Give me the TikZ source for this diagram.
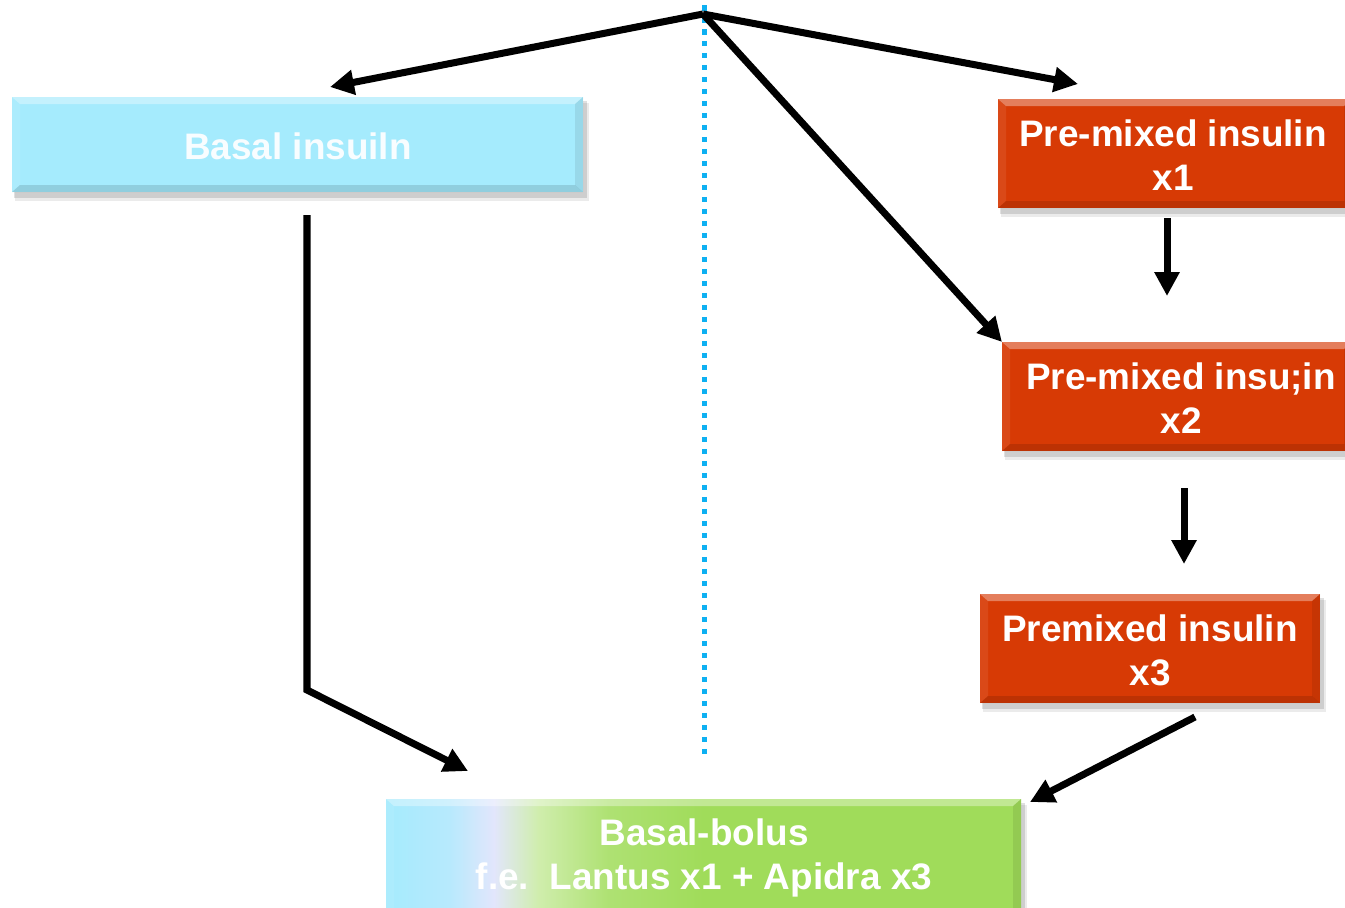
\documentclass[tikz,border=0pt]{standalone}
\usepackage{fontspec}
\setmainfont{Liberation Sans}
\usetikzlibrary{arrows.meta}
\definecolor{cy}{HTML}{A5EBFD}
\definecolor{orng}{HTML}{D73A05}
\definecolor{grn}{HTML}{A0DC5A}
\definecolor{lav}{HTML}{E2E6FC}
\definecolor{dotc}{HTML}{0DB0F2}
\pgfdeclarehorizontalshading{bbshade}{100bp}{color(0bp)=(cy); color(25bp)=(cy); color(30bp)=(cy!70!lav); color(33.5bp)=(lav); color(37bp)=(grn!50!white); color(42.5bp)=(grn!85!white); color(50bp)=(grn); color(75bp)=(grn); color(100bp)=(grn)}
\newcommand{\bevbox}[5]{% x1 y1 x2 y2 fillspec
  \fill[black,opacity=0.12] (#1+2,#2+4) rectangle (#3+4,#4+6);
  \fill[black,opacity=0.08] (#1+3,#2+6) rectangle (#3+6,#4+9);
  \path[#5] (#1,#2) rectangle (#3,#4);
  \fill[white,opacity=0.35] (#1,#2) -- (#3,#2) -- (#3-8,#2+7) -- (#1+8,#2+7) -- cycle;
  \fill[white,opacity=0.08] (#1,#2) -- (#1+8,#2+7) -- (#1+8,#4-7) -- (#1,#4) -- cycle;
  \fill[black,opacity=0.08] (#3,#2) -- (#3-8,#2+7) -- (#3-8,#4-7) -- (#3,#4) -- cycle;
  \fill[black,opacity=0.12] (#1,#4) -- (#1+8,#4-7) -- (#3-8,#4-7) -- (#3,#4) -- cycle;
}
\tikzset{
  lbl/.style={text=white, font=\bfseries\fontsize{21}{25}\selectfont, align=center, inner sep=0pt},
  arr/.style={line width=4pt, -{Triangle[length=0.48cm,width=0.48cm]}},
}
\begin{document}
\begin{tikzpicture}[x=0.02cm,y=-0.02cm]
\useasboundingbox (0,0) rectangle (1345,907);
\clip (0,0) rectangle (1345,907);
% boxes
\bevbox{12}{97}{583}{192}{fill=cy}
\bevbox{998}{99}{1352}{208}{fill=orng}
\bevbox{1002}{342}{1352}{451}{fill=orng}
\bevbox{980}{594}{1320}{703}{fill=orng}
\bevbox{386}{799}{1021}{915}{shading=bbshade}
% labels
\node[lbl, text=white!92!cy] (basal) at (298,146) {Basal insuiln};
\node[lbl] (pm1) at (1173,155) {Pre-mixed insulin\\x1};
\node[lbl] (pm2) at (1181,398) {Pre-mixed insu;in\\x2};
\node[lbl] (pm3) at (1150,650) {Premixed insulin\\x3};
\node[lbl] (bb) at (704,858) {Basal-bolus\\f.e.\ \ Lantus x1 + Apidra x3};
% coordinates
\coordinate (top) at (703,14);
\coordinate (dtop) at (704,5);
\coordinate (dbot) at (704,760);
\coordinate (basin) at (330,87);
\coordinate (pm1in) at (1078,84);
\coordinate (pm2in) at (1002,342);
\coordinate (pm1out) at (1167,218);
\coordinate (pm2tip) at (1167,296);
\coordinate (pm2out) at (1184,488);
\coordinate (pm3tip) at (1184,564);
\coordinate (basout) at (307,215);
\coordinate (bend) at (307,690);
\coordinate (bbinl) at (468,771);
\coordinate (pm3out) at (1195,717);
\coordinate (bbinr) at (1030,802);
% dotted line
\draw[dotc, line width=0.1cm, dash pattern=on 0.11cm off 0.13cm] (dtop) -- (dbot);
% arrows
\draw[arr] (top) -- (basin);
\draw[arr] (top) -- (pm1in);
\draw[arr] (top) -- (pm2in);
\draw[arr] (pm1out) -- (pm2tip);
\draw[arr] (pm2out) -- (pm3tip);
\draw[arr] (basout) -- (bend) -- (bbinl);
\draw[arr] (pm3out) -- (bbinr);
\end{tikzpicture}
\end{document}
